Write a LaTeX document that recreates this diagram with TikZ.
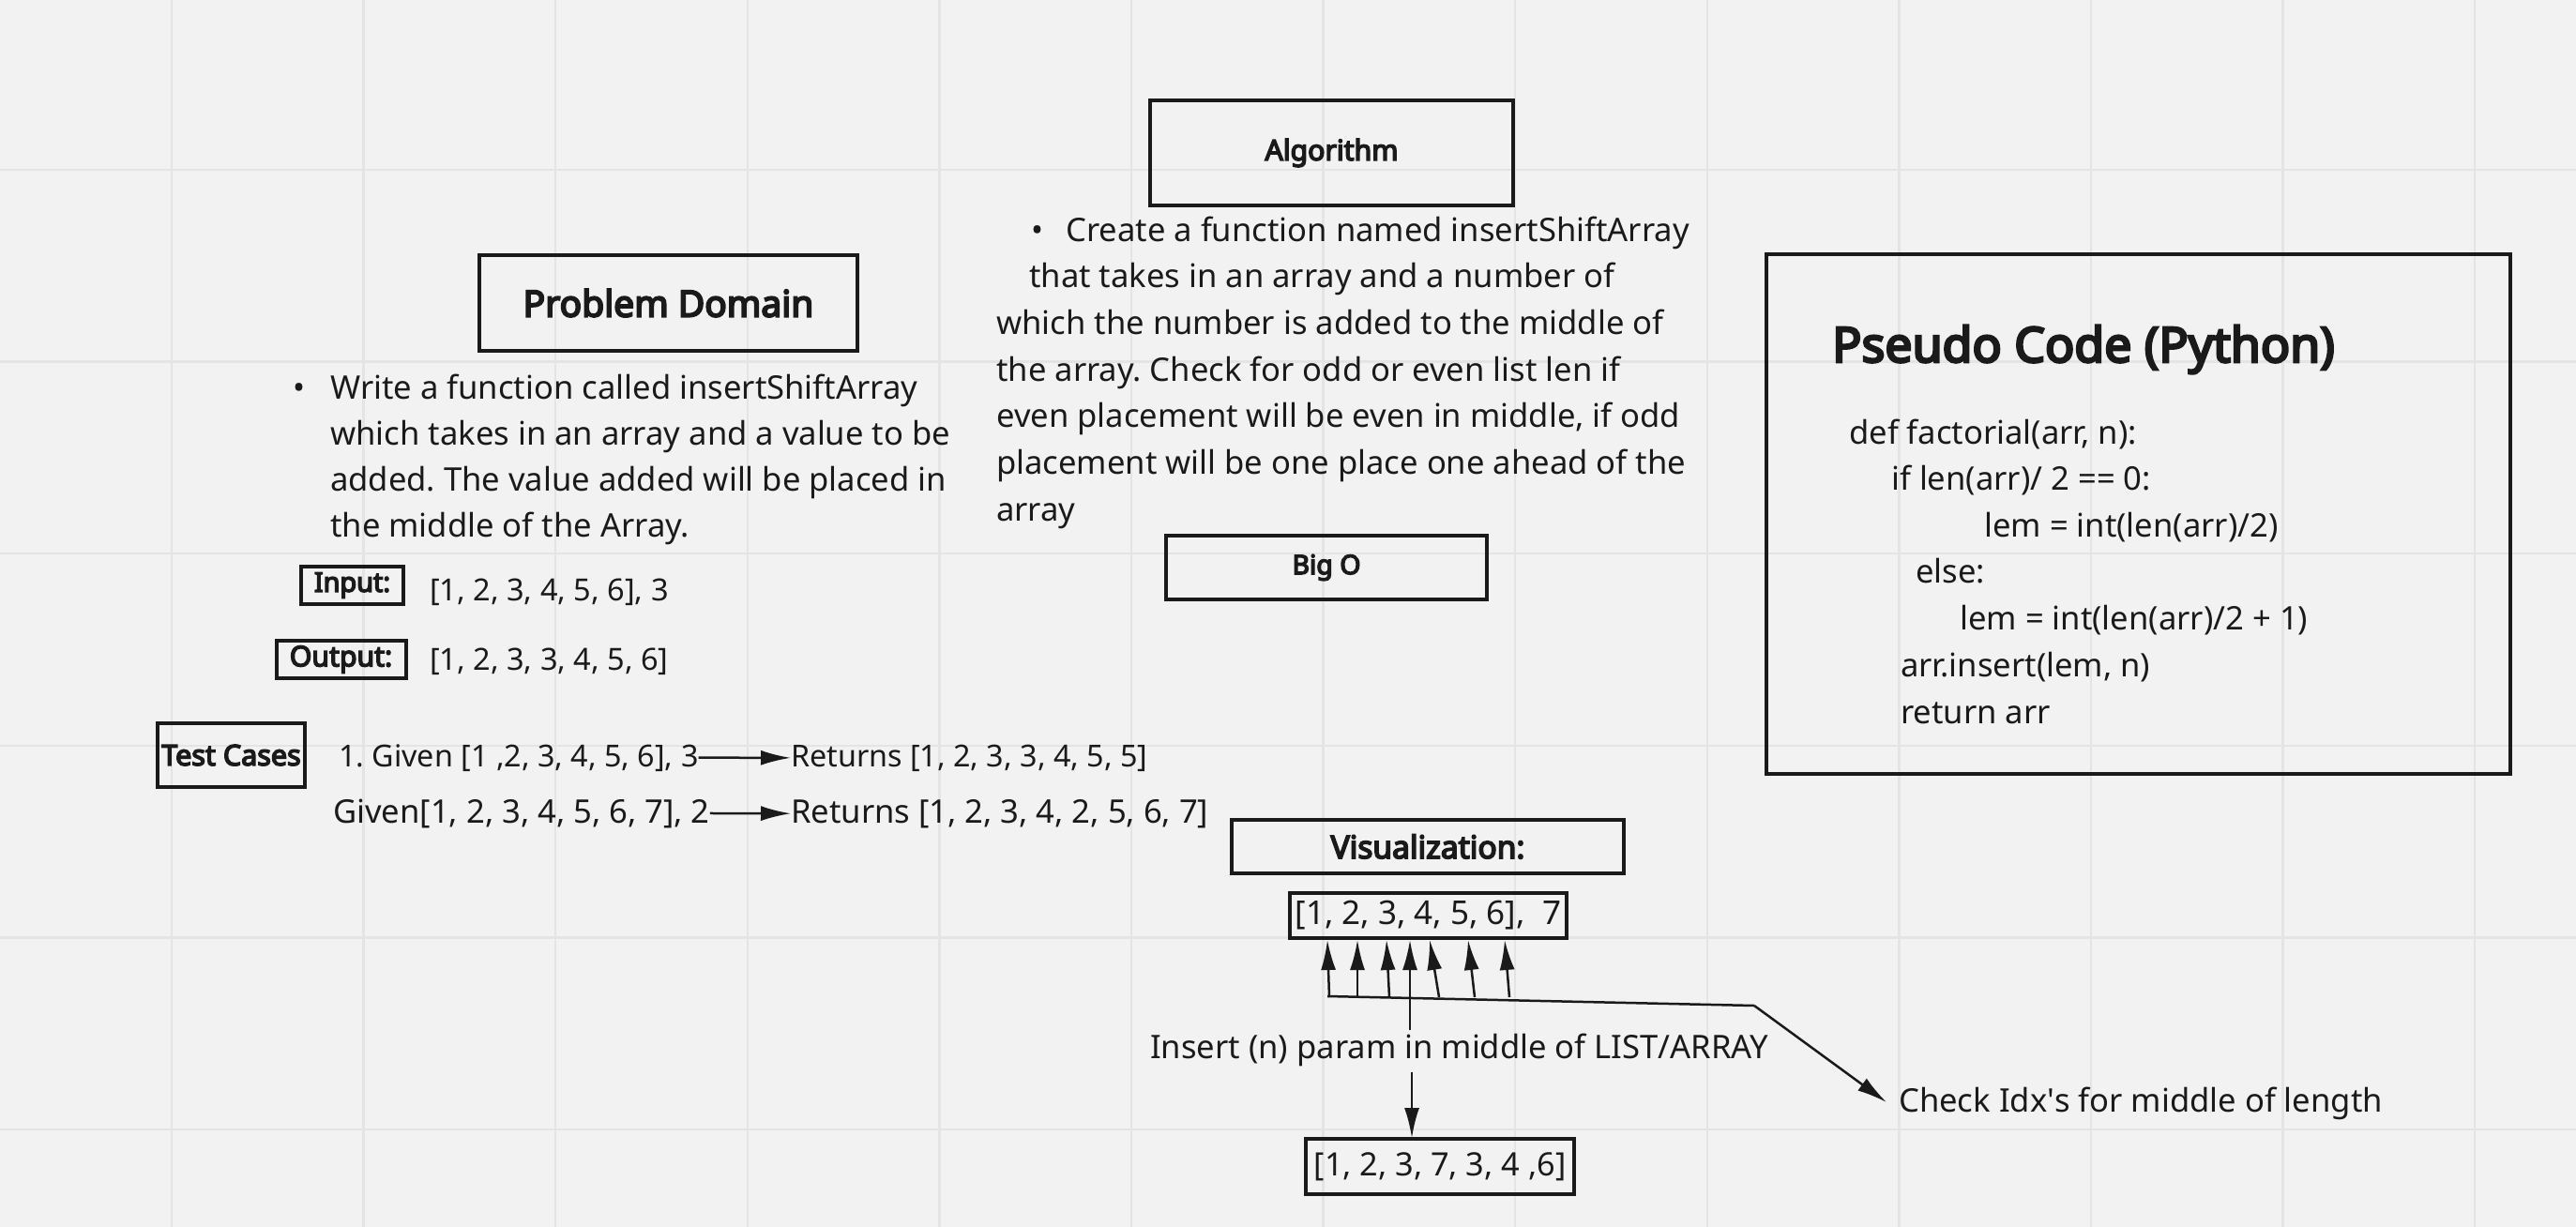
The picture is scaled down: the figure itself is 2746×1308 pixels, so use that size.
\documentclass[tikz,border=0pt]{standalone}
\usepackage{fontspec}
\setmainfont{Noto Sans}
\IfFontExistsTF{NotoSans-Bold.ttf}{\newfontfamily\bfam{NotoSans-Bold.ttf}\def\bk{0.92}}{%
 \IfFontExistsTF{Noto Sans Bold}{\newfontfamily\bfam{Noto Sans Bold}\def\bk{0.92}}{%
  \newfontfamily\bfam{Noto Sans}[FakeBold=5]\def\bk{1}}}
\newcommand\bs[1]{\fontsize{\fpeval{#1*\bk}}{\fpeval{#1*\bk*1.2}}\selectfont}
\usetikzlibrary{arrows.meta}
\definecolor{bgc}{HTML}{F2F2F2}
\definecolor{gridc}{HTML}{E4E4E4}
\definecolor{ink}{HTML}{1A1A1A}
\frenchspacing
\begin{document}
\begin{tikzpicture}[x=1pt,y=-1pt,
  box/.style={draw=ink, line width=4, inner sep=0, text=ink},
  txt/.style={inner sep=0, anchor=base west, text=ink, font=\fontsize{34.6}{40}\selectfont},
  ttl/.style={font=\bfam\bs{30.2}},
  arr/.style={draw=ink, line width=2.5, -{Latex[length=32,width=16]}},
  ln/.style={draw=ink, line width=2.5}]
\fill[bgc] (0,0) rectangle (2746,1308);
\useasboundingbox (0,0) rectangle (2746,1308);
\foreach \i in {0,...,12} \draw[gridc, line width=2.5] (183+204.6*\i,0) -- ++(0,1308);
\foreach \i in {0,...,5} \draw[gridc, line width=2.5] (0,181+204.6*\i) -- ++(2746,0);

% Problem domain
\node[box, minimum width=403, minimum height=102, font=\bfam\bs{39}] (pd) at (712.5,323) {Problem Domain};
\node[txt] (pdb) at (312,425) {•};
\foreach \t [count=\i] in {{Write a function called insertShiftArray},{which takes in an array and a value to be},{added. The value added will be placed in},{the middle of the Array.}}
  \node[txt] (pd\i) at (352,425+49*\i-49) {\t};

\node[box, ttl, font=\bfam\bs{28.8}, minimum width=109, minimum height=40] (inb) at (375.5,624) {Input:};
\node[txt, font=\fontsize{32.5}{40}\selectfont] (inv) at (458,640) {[1, 2, 3, 4, 5, 6], 3};
\node[box, ttl, minimum width=138, minimum height=40] (outb) at (363.5,703) {Output:};
\node[txt, font=\fontsize{32.5}{40}\selectfont] (outv) at (458,714) {[1, 2, 3, 3, 4, 5, 6]};

\node[box, ttl, font=\bfam\bs{30.5}, minimum width=157, minimum height=68] (tcb) at (246.5,805) {Test Cases};
\node[txt, font=\fontsize{32.3}{40}\selectfont] (tc1) at (361,817) {1. Given [1 ,2, 3, 4, 5, 6], 3};
\node[txt, font=\fontsize{32.3}{40}\selectfont] (tr1) at (843,817) {Returns [1, 2, 3, 3, 4, 5, 5]};
\node[txt] (tc2) at (355,877) {Given[1, 2, 3, 4, 5, 6, 7], 2};
\node[txt] (tr2) at (843,877) {Returns [1, 2, 3, 4, 2, 5, 6, 7]};
\draw[arr] (tc1.east) -- (tr1.west);
\draw[arr] (tc2.east) -- (tr2.west);

% Algorithm
\node[box, ttl, minimum width=387, minimum height=112] (alg) at (1419.5,163) {Algorithm};
\node[txt] (algb) at (1099,257) {•};
\node[txt] (alg1) at (1136,257) {Create a function named insertShiftArray};
\node[txt] (alg2) at (1097,306.7) {that takes in an array and a number of};
\foreach \t [count=\i from 3] in {{which the number is added to the middle of},{the array. Check for odd or even list len if},{even placement will be even in middle, if odd},{placement will be one place one ahead of the},{array}}
  \node[txt] (alg\i) at (1062,257+49.7*\i-49.7) {\t};

\node[box, ttl, font=\bfam\bs{28.5}, minimum width=342, minimum height=68] (bigo) at (1414,605) {Big O};

% Pseudo code
\node[box, minimum width=793, minimum height=554] (pc) at (2279.5,548) {};
\node[txt, font=\bfam\bs{51.8}] (pct) at (1953,386) {Pseudo Code (Python)};
\node[txt] (c1) at (1971,473) {def factorial(arr, n):};
\node[txt] (c2) at (2016,522) {if len(arr)/ 2 == 0:};
\node[txt] (c3) at (2115,572) {lem = int(len(arr)/2)};
\node[txt] (c4) at (2042,621) {else:};
\node[txt] (c5) at (2089,671) {lem = int(len(arr)/2 + 1)};
\node[txt] (c6) at (2026,721) {arr.insert(lem, n)};
\node[txt] (c7) at (2026,771) {return arr};

% Visualization
\node[box, ttl, font=\bfam\bs{33.5}, minimum width=418, minimum height=57] (vis) at (1522,902.5) {Visualization:};
\node[box, minimum width=295, minimum height=48, font=\fontsize{35}{40}\selectfont] (arrin) at (1522.5,976) {[1, 2, 3, 4, 5, 6],~~7};
\node[txt] (ins) at (1226,1128) {Insert (n) param in middle of LIST/ARRAY};
\node[box, minimum width=286, minimum height=59, font=\fontsize{34.3}{40}\selectfont] (bot) at (1535,1243.5) {[1, 2, 3, 7, 3, 4 ,6]};
\node[txt] (chk) at (2024,1185) {Check Idx\textquotesingle s for middle of length};

\coordinate (h1) at (1415,1062);
\coordinate (h2) at (1870,1072);
\coordinate (ce) at (2011,1175);
\draw[ln] (h1) -- (h2);
\draw[arr] (h2) -- (ce);
\foreach \bx/\tx [count=\i] in {1417/1415,1447/1447,1481/1478,1534/1524,1572/1565,1609/1604}{
  \coordinate (b\i) at (\bx,1063);
  \coordinate (t\i) at (\tx,1002);
  \draw[arr] (b\i) -- (t\i);
}
\coordinate (m1) at (1503,1098);
\coordinate (m2) at (1503,1002);
\draw[arr] (m1) -- (m2);
\coordinate (d1) at (1505,1143);
\coordinate (d2) at (1505,1213);
\draw[arr] (d1) -- (d2);
\end{tikzpicture}
\end{document}
